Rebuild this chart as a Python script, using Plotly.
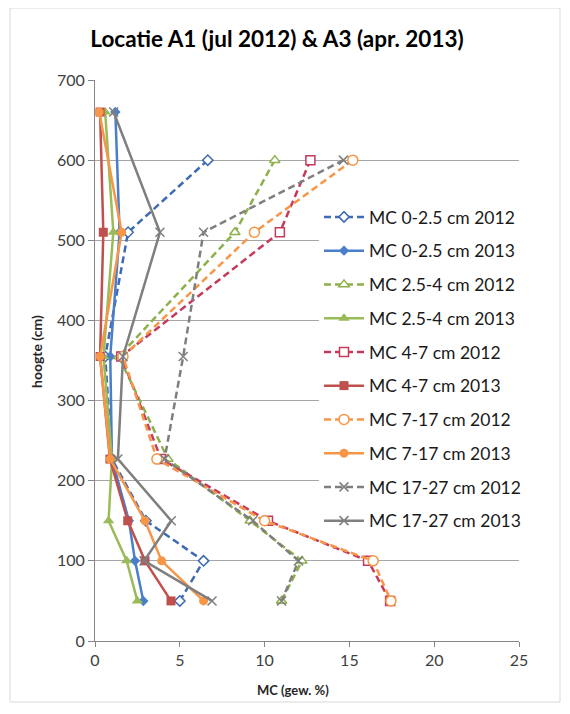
import plotly.graph_objects as go

# heights (cm)
h2012 = [600, 510, 355, 227, 150, 100, 50]
h2013 = [660, 510, 355, 227, 150, 100, 50]

# MC values (gew. %)
mc_0_25_2012 = [6.65, 1.95, 0.6, 1.0, 3.0, 6.4, 5.0]
mc_0_25_2013 = [1.2, 1.45, 0.9, 1.0, 2.0, 2.36, 2.85]
mc_25_4_2012 = [10.6, 8.25, 1.4, 4.3, 9.15, 12.2, 11.0]
mc_25_4_2013 = [0.6, 1.08, 0.5, 1.0, 0.8, 1.87, 2.5]
mc_4_7_2012 = [12.7, 10.9, 1.55, 3.9, 10.2, 16.1, 17.4]
mc_4_7_2013 = [0.3, 0.49, 0.3, 0.88, 1.93, 2.95, 4.48]
mc_7_17_2012 = [15.2, 9.4, 1.65, 3.65, 10.0, 16.4, 17.45]
mc_7_17_2013 = [0.25, 1.57, 0.3, 0.9, 2.95, 3.93, 6.4]
mc_17_27_2012 = [14.65, 6.4, 5.2, 4.1, 9.3, 12.0, 11.0]
mc_17_27_2013 = [1.1, 3.83, 1.65, 1.35, 4.5, 2.9, 6.9]

names = ["MC 0-2.5 cm 2012", "MC 0-2.5 cm 2013", "MC 2.5-4 cm 2012", "MC 2.5-4 cm 2013",
         "MC 4-7 cm 2012", "MC 4-7 cm 2013", "MC 7-17 cm 2012", "MC 7-17 cm 2013",
         "MC 17-27 cm 2012", "MC 17-27 cm 2013"]
values = [mc_0_25_2012, mc_0_25_2013, mc_25_4_2012, mc_25_4_2013, mc_4_7_2012,
          mc_4_7_2013, mc_7_17_2012, mc_7_17_2013, mc_17_27_2012, mc_17_27_2013]

styles = [
    dict(color="#3E6AB3", dash="7px,4px", symbol="diamond", fill="white", size=8),
    dict(color="#4A7EC9", dash="solid", symbol="diamond", fill=None, size=8),
    dict(color="#8DB04A", dash="7px,4px", symbol="triangle-up", fill="white", size=9),
    dict(color="#9BBB59", dash="solid", symbol="triangle-up", fill=None, size=10),
    dict(color="#C53A5A", dash="7px,4px", symbol="square", fill="white", size=9),
    dict(color="#C0504D", dash="solid", symbol="square", fill=None, size=9),
    dict(color="#F79646", dash="7px,4px", symbol="circle", fill="white", size=10),
    dict(color="#F79646", dash="solid", symbol="circle", fill=None, size=9),
    dict(color="#7F7F7F", dash="7px,4px", symbol="x-thin", fill=None, size=9),
    dict(color="#7F7F7F", dash="solid", symbol="x-thin", fill=None, size=9),
]

fig = go.Figure()
for i, (nm, vals, st) in enumerate(zip(names, values, styles)):
    hs = h2012 if nm.endswith("2012") else h2013
    if st["symbol"] == "x-thin":
        marker = dict(symbol="x-thin", size=st["size"], line=dict(color=st["color"], width=1.5))
    elif st["fill"]:
        marker = dict(symbol=st["symbol"], size=st["size"], color=st["fill"],
                      line=dict(color=st["color"], width=1.5))
    else:
        marker = dict(symbol=st["symbol"], size=st["size"], color=st["color"],
                      line=dict(color=st["color"], width=0))
    fig.add_trace(go.Scatter(
        x=vals, y=hs, name=nm, mode="lines+markers",
        line=dict(color=st["color"], width=2.5, dash=st["dash"]),
        marker=marker, legendgroup=f"g{i}",
    ))

# page body has an 8px offset; margins compensate so the plot lands at x 95..519, y 80..641
fig.update_layout(
    width=570, height=714,
    margin=dict(l=87, r=59, t=72, b=81, autoexpand=False),
    paper_bgcolor="white", plot_bgcolor="white",
    font=dict(family="Lato, sans-serif", color="#262626"),
    title=dict(text="<b>Locatie A1 (jul 2012) &amp; A3 (apr. 2013)</b>",
               x=(277 - 8) / 570, xanchor="center", y=1 - (39 - 8) / 714, yanchor="middle",
               xref="container", yref="container",
               font=dict(size=22.5, color="#000000")),
    xaxis=dict(range=[0, 25], tickvals=[0, 5, 10, 15, 20, 25], showgrid=False,
               zeroline=False, showline=True, linecolor="#868686", linewidth=1,
               ticks="outside", ticklen=5, tickcolor="#868686", automargin=False,
               tickfont=dict(size=16, color="#404040")),
    yaxis=dict(range=[0, 700], tickvals=[0, 100, 200, 300, 400, 500, 600, 700],
               showgrid=True, gridcolor="#A6A6A6", gridwidth=1,
               zeroline=False, showline=True, linecolor="#868686", linewidth=1,
               ticks="outside", ticklen=6, tickcolor="#868686", automargin=False,
               tickfont=dict(size=16, color="#404040")),
    legend=dict(x=(319 - 95) / 424, y=(641 - 199) / 561, xanchor="left", yanchor="top",
                bgcolor="white", borderwidth=0, tracegroupgap=8,
                font=dict(size=17.5, color="#1a1a1a"), itemwidth=40),
    showlegend=True,
)

fig.add_annotation(text="<b>MC (gew. %)</b>", xref="paper", yref="paper",
                   x=(293 - 95) / 424, y=(641 - 690) / 561, showarrow=False,
                   xanchor="center", yanchor="middle",
                   font=dict(size=13, color="#262626"))
fig.add_annotation(text="<b>hoogte (cm)</b>", xref="paper", yref="paper",
                   x=(36 - 95) / 424, y=(641 - 352) / 561, showarrow=False,
                   xanchor="center", yanchor="middle", textangle=-90,
                   font=dict(size=14, color="#262626"))

fig.add_shape(type="rect", xref="paper", yref="paper",
              x0=(10 - 95) / 424, x1=(560 - 95) / 424,
              y0=(641 - 702) / 561, y1=(641 - 8) / 561,
              line=dict(color="#D9D9D9", width=1), fillcolor="rgba(0,0,0,0)", layer="below")

fig.write_html("out.html")
